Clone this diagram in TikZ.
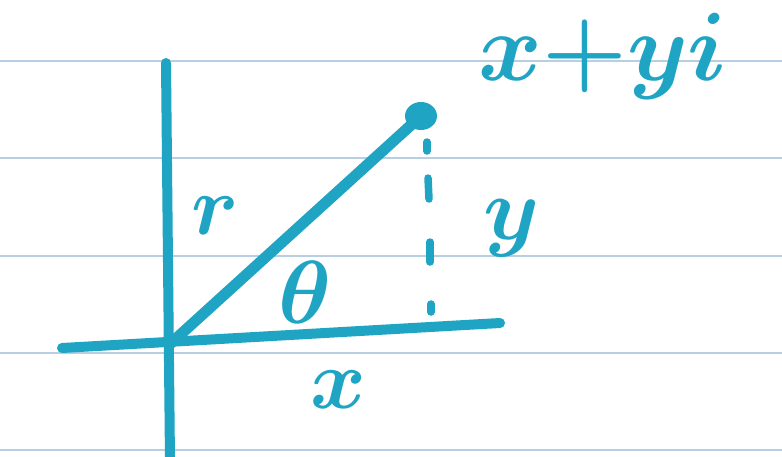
\documentclass[tikz,border=0pt]{standalone}
\usepackage{graphicx}
\definecolor{ink}{HTML}{1FA5C3}
\definecolor{ruleblue}{HTML}{B8CEE2}
\newcommand{\hw}[2][3.4]{\scalebox{#1}{\Huge\boldmath$#2$}}
\begin{document}
\begin{tikzpicture}[x=1pt,y=-1pt,
  penline/.style={ink, line width=10pt, line cap=round},
  dashseg/.style={ink, line width=7.5pt, line cap=round},
  lab/.style={text=ink, inner sep=0pt}]
\useasboundingbox (0,0) rectangle (782,456);
\fill[white] (0,0) rectangle (782,456);
\foreach \yy in {61,158,256,353,450}
  \draw[ruleblue, line width=1.2pt] (0,\yy) -- (782,\yy);
% axes
\coordinate (vtop) at (166,63);
\coordinate (vbot) at (170,462);
\coordinate (hl) at (62,348);
\coordinate (hr) at (500,323);
\coordinate (O) at (170,344);
\coordinate (P) at (421,116);
\draw[penline] (vtop) -- (vbot);
\draw[penline] (hl) -- (hr);
\draw[penline, line width=11pt] (O) -- (P);
\fill[ink] (P) ellipse [x radius=16, y radius=14];
% dashed vertical
\coordinate (a1) at (427,142); \coordinate (a2) at (427,151);
\coordinate (b1) at (428,178); \coordinate (b2) at (429,199);
\coordinate (c1) at (430,242); \coordinate (c2) at (430,262);
\coordinate (e1) at (431,304); \coordinate (e2) at (431,312);
\draw[dashseg] (a1) -- (a2);
\draw[dashseg] (b1) -- (b2);
\draw[dashseg] (c1) -- (c2);
\draw[dashseg] (e1) -- (e2);
% labels
\node[lab, anchor=base west] (z) at (478,80) {\hw[3.9]{x{+}yi}};
\node[lab] (r) at (215,216) {\hw{r}};
\node[lab] (th) at (305,292) {\hw[3.6]{\theta}};
\node[lab] (yl) at (512,228) {\hw[3.6]{y}};
\node[lab] (xl) at (338,390) {\hw{x}};
\end{tikzpicture}
\end{document}
